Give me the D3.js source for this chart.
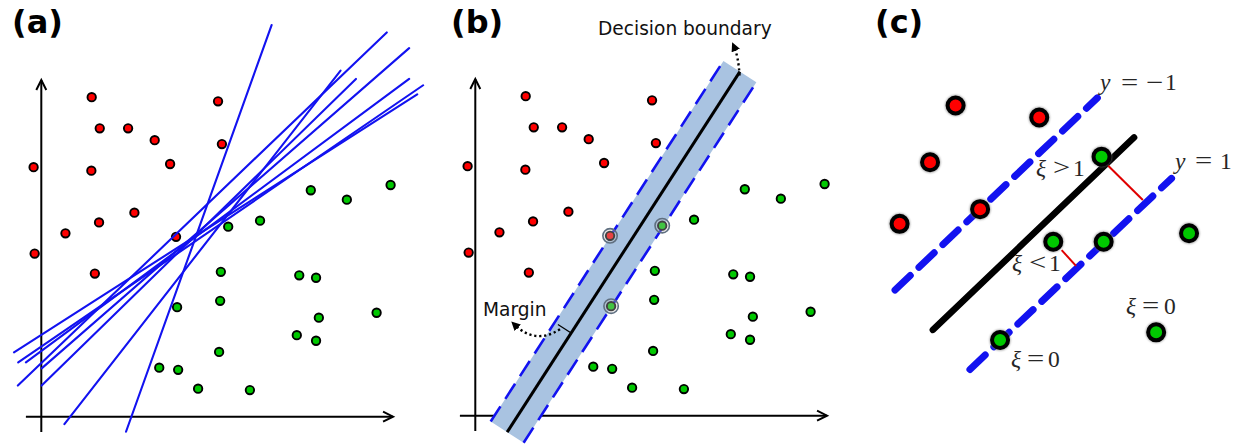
<!DOCTYPE html>
<html>
<head>
<meta charset="utf-8">
<script src="https://cdn.jsdelivr.net/npm/d3@7"></script>
<style>
  html, body { margin: 0; padding: 0; background: #ffffff; }
  svg { display: block; }
</style>
</head>
<body>
<svg id="fig" width="1234" height="444"></svg>
<script>
// ---------- data (feature-space units) ----------
const redPoints = [
  [1.44, 9.13], [1.67, 8.24], [2.48, 8.24], [3.24, 7.90], [5.05, 9.01],
  [5.16, 7.79], [-0.22, 7.13], [1.43, 7.03], [3.68, 7.22], [2.66, 5.83],
  [1.65, 5.55], [0.69, 5.24], [3.85, 5.14], [-0.19, 4.66], [1.53, 4.09]
];
const greenPoints = [
  [7.70, 6.47], [8.73, 6.20], [9.98, 6.62], [5.34, 5.43], [6.25, 5.60],
  [5.13, 4.14], [7.37, 4.04], [7.85, 3.97], [5.11, 3.31], [3.88, 3.13],
  [7.93, 2.83], [9.58, 2.97], [7.30, 2.33], [7.85, 2.17], [5.08, 1.85],
  [3.37, 1.40], [3.91, 1.34], [4.48, 0.80], [5.96, 0.76]
];
// candidate separating lines: [x1, y1, x2, y2]
const candidateLines = [
  [-0.78, 1.84, 10.74, 9.21],
  [-0.66, 1.55, 10.91, 9.47],
  [-0.44, 1.55, 10.51, 9.65],
  [0.01, 1.38, 10.51, 10.53],
  [-0.67, 0.89, 9.87, 10.98],
  [0.01, 0.89, 8.99, 9.65],
  [0.66, -0.21, 8.55, 9.89],
  [2.42, -0.43, 6.58, 11.19]
];
// maximum-margin boundary and half-width of the margin
const boundary = [[0.91, -0.47], [7.56, 9.83]];
const marginHalf = 0.56;
const supportRed = [12];
const supportGreen = [3, 9];

// soft-margin example
const softRed = [[2.16, 8.89], [4.55, 8.55], [1.43, 7.27], [2.86, 5.93], [0.56, 5.51]];
const softGreen = [[6.33, 7.43], [4.95, 5.00], [6.39, 5.00], [8.83, 5.24], [3.43, 2.19], [7.89, 2.41]];
const softBoundary = [[1.51, 2.48], [7.26, 7.98]];
const softNeg = [[0.43, 3.62], [6.21, 9.11]];
const softPos = [[2.57, 1.35], [8.33, 6.81]];
const slackSegments = [
  [[6.52, 7.17], [7.51, 6.19]],
  [[5.19, 4.76], [5.60, 4.31]]
];

const panelTitles = ["(a)", "(b)", "(c)"];
const boundaryText = "Decision boundary";
const marginText = "Margin";
// math labels: [symbol, relation, sign, value]
const mathLabels = [
  ["y", "=", "\u2212", "1"],
  ["y", "=", "", "1"],
  ["\u03BE", ">", "", "1"],
  ["\u03BE", "<", "", "1"],
  ["\u03BE", "=", "", "0"],
  ["\u03BE", "=", "", "0"]
];

// ---------- layout ----------
const RED = "#ff0000", GREEN = "#00c800", BLUE = "#1212f0";
const svg = d3.select("#fig");

const x = d3.scaleLinear().domain([0, 10]).range([41.3, 391.3]);
const y = d3.scaleLinear().domain([0, 10]).range([416.7, 66.7]);
const xc = d3.scaleLinear().domain([0, 10]).range([880, 1230]);

const defs = svg.append("defs");
defs.append("marker")
  .attr("id", "tri")
  .attr("viewBox", "0 0 10 10")
  .attr("refX", 5).attr("refY", 5)
  .attr("markerWidth", 9).attr("markerHeight", 9)
  .attr("markerUnits", "userSpaceOnUse")
  .attr("orient", "auto")
  .append("path").attr("d", "M0,0 L10,5 L0,10 z").attr("fill", "#000");
const blur = defs.append("filter").attr("id", "halo")
  .attr("x", "-50%").attr("y", "-50%").attr("width", "200%").attr("height", "200%");
blur.append("feGaussianBlur").attr("stdDeviation", 1.2);

const line = d3.line().x(d => x(d[0])).y(d => y(d[1]));

function drawAxes(g) {
  const ax = g.append("g").attr("stroke", "#000").attr("stroke-width", 2).attr("fill", "none");
  const xEnd = [x(10.05), y(0)];
  const yEnd = [x(0), y(9.62)];
  ax.append("path").attr("d", line([[-0.44, 0], [10.05, 0]]));
  ax.append("path").attr("d", line([[0, -0.44], [0, 9.62]]));
  ax.append("path").attr("d", `M${xEnd[0] - 10},${xEnd[1] - 5} L${xEnd[0]},${xEnd[1]} L${xEnd[0] - 10},${xEnd[1] + 5}`);
  ax.append("path").attr("d", `M${yEnd[0] - 5},${yEnd[1] + 10} L${yEnd[0]},${yEnd[1]} L${yEnd[0] + 5},${yEnd[1] + 10}`);
}

function drawPoints(g, pts, color) {
  g.append("g").selectAll("circle").data(pts).join("circle")
    .attr("cx", d => x(d[0])).attr("cy", d => y(d[1]))
    .attr("r", 4.2)
    .attr("fill", color)
    .attr("stroke", "#000").attr("stroke-width", 1.9);
}

function title(g, text, tx) {
  g.append("text").text(text)
    .attr("x", tx).attr("y", 33)
    .attr("font-family", "DejaVu Sans").attr("font-weight", "bold")
    .attr("font-size", 32).attr("fill", "#000");
}

// ---------- (a) many separating lines ----------
const ga = svg.append("g");
title(ga, panelTitles[0], 12);
drawAxes(ga);
drawPoints(ga, redPoints, RED);
drawPoints(ga, greenPoints, GREEN);
ga.append("g").selectAll("path").data(candidateLines).join("path")
  .attr("d", d => line([[d[0], d[1]], [d[2], d[3]]]))
  .attr("stroke", BLUE).attr("stroke-width", 2.1).attr("fill", "none")
  .attr("stroke-linecap", "round");

// ---------- (b) maximum margin ----------
const gb = svg.append("g").attr("transform", "translate(434,-1)");
svg.append("text").text(panelTitles[1])
  .attr("x", 451).attr("y", 33)
  .attr("font-family", "DejaVu Sans").attr("font-weight", "bold")
  .attr("font-size", 32).attr("fill", "#000");
drawAxes(gb);

const [p0, p1] = boundary;
const len = Math.hypot(p1[0] - p0[0], p1[1] - p0[1]);
const u = [(p1[0] - p0[0]) / len, (p1[1] - p0[1]) / len];
const n = [-u[1], u[0]];                 // normal pointing to the red side
const off = (p, k) => [p[0] + n[0] * k, p[1] + n[1] * k];
const edgeNeg = [off(p0, marginHalf), off(p1, marginHalf)];
const edgePos = [off(p0, -marginHalf), off(p1, -marginHalf)];

gb.append("path")
  .attr("d", line([edgeNeg[0], edgeNeg[1], edgePos[1], edgePos[0]]) + "Z")
  .attr("fill", "#a9c3e1").attr("stroke", "none");
gb.append("g").selectAll("path").data([edgeNeg, edgePos]).join("path")
  .attr("d", d => line(d))
  .attr("stroke", BLUE).attr("stroke-width", 2.6).attr("fill", "none")
  .attr("stroke-dasharray", "18,9");
gb.append("path").attr("d", line(boundary))
  .attr("stroke", "#000").attr("stroke-width", 3).attr("fill", "none");

drawPoints(gb, redPoints, RED);
drawPoints(gb, greenPoints, GREEN);
const svs = supportRed.map(i => redPoints[i]).concat(supportGreen.map(i => greenPoints[i]));
gb.append("g").selectAll("circle").data(svs).join("circle")
  .attr("cx", d => x(d[0])).attr("cy", d => y(d[1]))
  .attr("r", 7.2)
  .attr("fill", "rgba(190,190,190,0.35)")
  .attr("stroke", "#5f6f80").attr("stroke-width", 1.6);

// margin measure and labels
const tFoot = 0.275;
const foot = [p0[0] + (p1[0] - p0[0]) * tFoot, p0[1] + (p1[1] - p0[1]) * tFoot];
gb.append("path").attr("d", line([off(foot, 0.45), foot]))
  .attr("stroke", "#000").attr("stroke-width", 1.3).attr("fill", "none");
gb.append("path")
  .attr("d", `M${x(2.42)},${y(2.47)} Q${x(1.72)},${y(2.02)} ${x(1.12)},${y(2.60)}`)
  .attr("stroke", "#000").attr("stroke-width", 2.4).attr("fill", "none")
  .attr("stroke-dasharray", "2.2,2.8").attr("marker-end", "url(#tri)");
gb.append("path")
  .attr("d", `M${x(7.55)},${y(9.72)} Q${x(7.52)},${y(10.25)} ${x(7.39)},${y(10.55)}`)
  .attr("stroke", "#000").attr("stroke-width", 2.4).attr("fill", "none")
  .attr("stroke-dasharray", "2.2,2.8").attr("marker-end", "url(#tri)");
svg.append("text").text(boundaryText)
  .attr("x", 598).attr("y", 34.5)
  .attr("font-family", "DejaVu Sans").attr("font-size", 18.6).attr("fill", "#111");
svg.append("text").text(marginText)
  .attr("x", 483).attr("y", 315.5)
  .attr("font-family", "DejaVu Sans").attr("font-size", 18.6).attr("fill", "#111");

// ---------- (c) soft margin ----------
const gc = svg.append("g");
title(gc, panelTitles[2], 875);
const lineC = d3.line().x(d => xc(d[0])).y(d => y(d[1]));

gc.append("g").selectAll("path").data([softNeg, softPos]).join("path")
  .attr("d", d => lineC(d))
  .attr("stroke", BLUE).attr("stroke-width", 7).attr("fill", "none")
  .attr("stroke-linecap", "round").attr("stroke-dasharray", "21,12");
gc.append("path").attr("d", lineC(softBoundary))
  .attr("stroke", "#000").attr("stroke-width", 6.5).attr("fill", "none")
  .attr("stroke-linecap", "round");
gc.append("g").selectAll("path").data(slackSegments).join("path")
  .attr("d", d => lineC(d))
  .attr("stroke", "#e00000").attr("stroke-width", 2).attr("fill", "none");

function bigPoints(pts, color) {
  const g = gc.append("g");
  g.selectAll("circle.h").data(pts).join("circle").attr("class", "h")
    .attr("cx", d => xc(d[0])).attr("cy", d => y(d[1]))
    .attr("r", 10.5).attr("fill", "#777").attr("opacity", 0.7)
    .attr("filter", "url(#halo)");
  g.selectAll("circle.p").data(pts).join("circle").attr("class", "p")
    .attr("cx", d => xc(d[0])).attr("cy", d => y(d[1]))
    .attr("r", 8).attr("fill", color)
    .attr("stroke", "#000").attr("stroke-width", 4);
}
bigPoints(softRed, RED);
bigPoints(softGreen, GREEN);

// label anchors (px): symbol x, relation x, value x, baseline
const mathPos = [
  [1100, 1121, 1165, 90],
  [1175, 1195, 1220, 168.5],
  [1036, 1053, 1073, 175.5],
  [1012, 1029, 1049, 270.5],
  [1126, 1142, 1164, 313.5],
  [1011, 1027, 1048, 366.5]
];
const ml = gc.append("g").attr("font-family", "Liberation Serif")
  .attr("font-size", 23.5).attr("fill", "#262626");
const wide = (sel, px) => sel.attr("transform", `translate(${px},0) scale(1.3,1) translate(${-px},0)`);
mathLabels.forEach((lab, i) => {
  const [sx, rx, vx, by] = mathPos[i];
  ml.append("text").text(lab[0]).attr("x", sx).attr("y", by).attr("font-style", "italic");
  wide(ml.append("text").text(lab[1]).attr("x", rx).attr("y", by), rx);
  if (lab[2]) {
    const mx = rx + 25;
    wide(ml.append("text").text(lab[2]).attr("x", mx).attr("y", by), mx);
  }
  ml.append("text").text(lab[3]).attr("x", vx).attr("y", by);
});
</script>
</body>
</html>
